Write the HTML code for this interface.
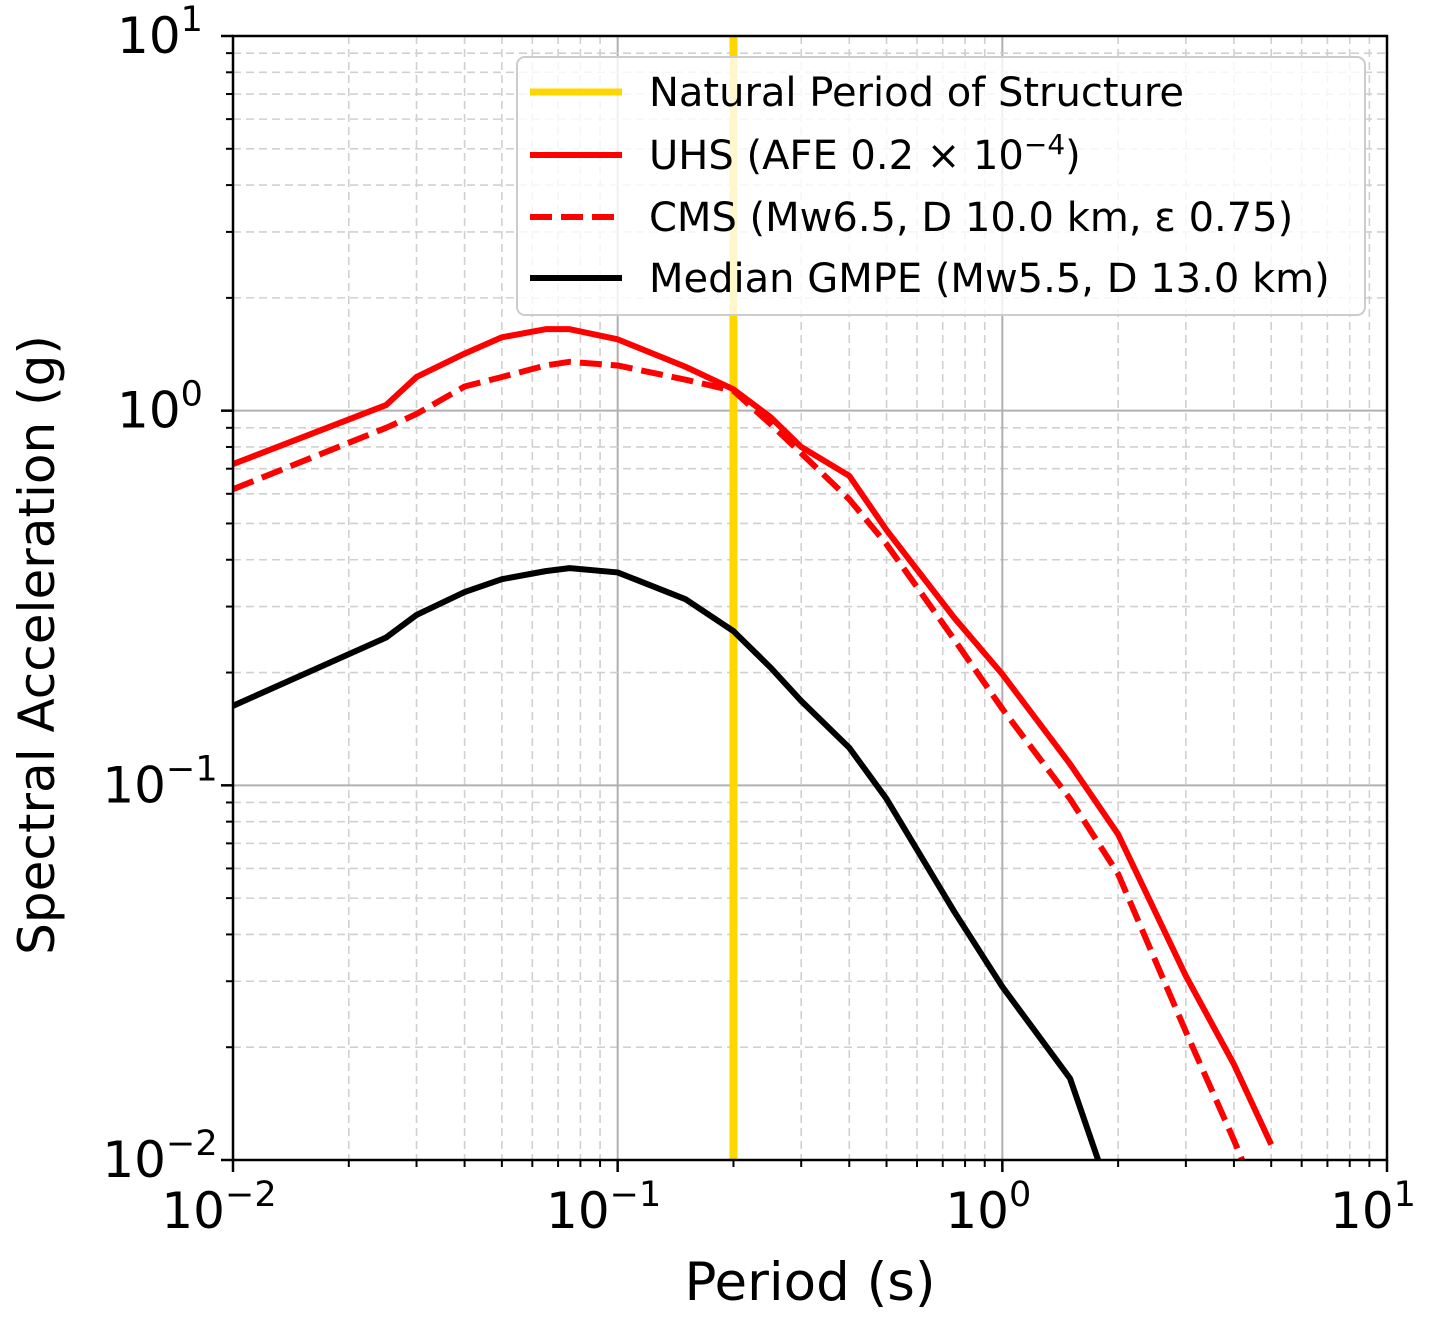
<!DOCTYPE html>
<html><head><meta charset="utf-8"><style>html,body{margin:0;background:#fff;overflow:hidden;width:1443px;height:1323px}svg{display:block}text{font-family:"DejaVu Sans","Liberation Sans",sans-serif}</style></head>
<body>
<svg id="chart" width="1443" height="1323" xmlns="http://www.w3.org/2000/svg">
<rect width="1443" height="1323" fill="#fff"/>
<g id="grid"></g>
<g id="series"></g>
<g id="axes"></g>
<text x="810" y="1300" font-size="53" text-anchor="middle">Period (s)</text>
<text transform="translate(54,645) rotate(-90)" font-size="50" text-anchor="middle">Spectral Acceleration (g)</text>
<g>
<rect x="517" y="57" width="848" height="258" rx="8" fill="#fff" fill-opacity="0.8" stroke="#ccc" stroke-width="2"/>
<line x1="530" y1="92" x2="622" y2="92" stroke="#ffd700" stroke-width="7"/>
<text x="649" y="106" font-size="40">Natural Period of Structure</text>
<line x1="530" y1="155" x2="622" y2="155" stroke="#f00" stroke-width="6"/>
<text x="649" y="169" font-size="40">UHS (AFE 0.2 × 10<tspan dy="-15" font-size="28">−4</tspan><tspan dy="15">)</tspan></text>
<line x1="530" y1="217" x2="622" y2="217" stroke="#f00" stroke-width="6" stroke-dasharray="22,9"/>
<text x="649" y="231" font-size="40">CMS (Mw6.5, D 10.0 km, ε 0.75)</text>
<line x1="530" y1="278" x2="622" y2="278" stroke="#000" stroke-width="6"/>
<text x="649" y="292" font-size="40">Median GMPE (Mw5.5, D 13.0 km)</text>
</g>
</svg>
<script>
const periods=[0.01,0.025,0.03,0.04,0.05,0.065,0.075,0.1,0.15,0.2,0.25,0.3,0.4,0.5,0.75,1,1.5,2,3,4,5];
const uhs=[0.72,1.035,1.23,1.42,1.57,1.65,1.65,1.55,1.31,1.14,0.96,0.8,0.67,0.48,0.28,0.198,0.114,0.074,0.031,0.018,0.011];
const cms=[0.617,0.9,0.98,1.16,1.23,1.32,1.35,1.32,1.21,1.13,0.92,0.77,0.58,0.44,0.245,0.16,0.092,0.058,0.022,0.0113,0.0065];
const gmpe=[0.163,0.248,0.285,0.328,0.355,0.373,0.38,0.37,0.314,0.258,0.206,0.168,0.126,0.092,0.046,0.029,0.0165,0.007,0.003,0.0015,0.001];
const naturalPeriod=0.2;
const xTickLabels=["−2","−1","0","1"];
const yTickLabels=["−2","−1","0","1"];
const L=233,R=1387,T=36,B=1160;
const X=v=>L+(Math.log10(v)+2)/3*(R-L);
const Y=v=>B-(Math.log10(v)+2)/3*(B-T);
const NS="http://www.w3.org/2000/svg";
function mk(p,tag,a){const e=document.createElementNS(NS,tag);for(const k in a)e.setAttribute(k,a[k]);p.appendChild(e);return e;}
const grid=document.getElementById('grid'),axes=document.getElementById('axes'),ser=document.getElementById('series');
const clip=mk(document.getElementById('chart'),'clipPath',{id:'pc'});mk(clip,'rect',{x:L,y:T,width:R-L,height:B-T});
for(let d=-2;d<1;d++)for(let m=1;m<10;m++){const v=m*Math.pow(10,d);
 const major=m===1;
 const gx=mk(grid,'line',{x1:X(v),x2:X(v),y1:T,y2:B,stroke:major?'#b0b0b0':'#d0d0d0','stroke-width':major?2:1.6,'stroke-dasharray':major?'none':'8,5'});
 
 const gy=mk(grid,'line',{x1:L,x2:R,y1:Y(v),y2:Y(v),stroke:major?'#b0b0b0':'#d0d0d0','stroke-width':major?2:1.6,'stroke-dasharray':major?'none':'8,5'});
 
 mk(axes,'line',{x1:X(v),x2:X(v),y1:B,y2:B+(major?12:7),stroke:'#000','stroke-width':major?2.5:2});
 mk(axes,'line',{x1:L,x2:L-(major?12:7),y1:Y(v),y2:Y(v),stroke:'#000','stroke-width':major?2.5:2});
}
mk(axes,'line',{x1:R,x2:R,y1:B,y2:B+12,stroke:'#000','stroke-width':2.5});
mk(axes,'line',{x1:L,x2:L-12,y1:T,y2:T,stroke:'#000','stroke-width':2.5});
mk(axes,'rect',{x:L,y:T,width:R-L,height:B-T,fill:'none',stroke:'#000','stroke-width':2.5});
xTickLabels.forEach((s,i)=>{const v=Math.pow(10,i-2);
 const t=mk(axes,'text',{x:X(v)-14,y:1228,'font-size':50,'text-anchor':'middle'});
 
 t.innerHTML='10<tspan dy="-22" font-size="35">'+s+'</tspan>';});
yTickLabels.forEach((s,i)=>{const v=Math.pow(10,i-2);
 const t=mk(axes,'text',{x:160,y:Y(v)+17,'font-size':50,'text-anchor':'middle'});
 
 t.innerHTML='10<tspan dy="-22" font-size="35">'+s+'</tspan>';});
const g=mk(ser,'g',{'clip-path':'url(#pc)'});
const np=mk(g,'line',{x1:X(naturalPeriod),x2:X(naturalPeriod),y1:T,y2:B,stroke:'#ffd700','stroke-width':8});

function line(arr,col,dash,name){const p=mk(g,'path',{d:arr.map((v,i)=>(i?'L':'M')+X(periods[i])+','+Y(v)).join(''),fill:'none',stroke:col,'stroke-width':6,'stroke-dasharray':dash,'stroke-linejoin':'round'});
 }
line(gmpe,'#000','none','gmpe-line');
line(cms,'#f00','22,9','cms-line');
line(uhs,'#f00','none','uhs-line');
</script>
</body></html>
